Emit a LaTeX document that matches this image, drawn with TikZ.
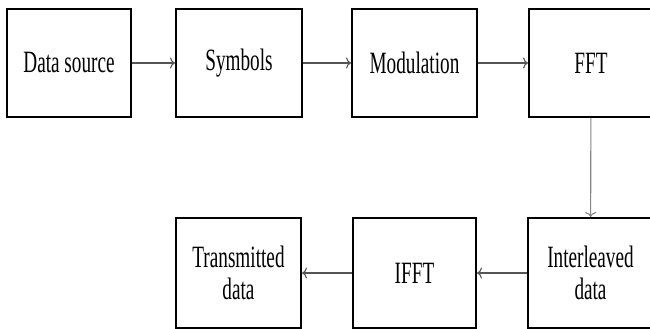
\documentclass[tikz,border=0pt]{standalone}
\usepackage{fontspec}
\newfontfamily\cf[FakeStretch=0.62]{Liberation Serif}
\usetikzlibrary{arrows.meta}
\definecolor{hline}{HTML}{555555}
\definecolor{vline}{HTML}{858585}
\tikzset{
  blk/.style={draw=black, line width=2pt, inner sep=0pt, align=center,
    font=\cf\fontsize{31}{32}\selectfont},
  conn/.style={draw=hline, line width=1.1pt, -{To[length=5pt,width=11pt]}},
}
\begin{document}
\begin{tikzpicture}[x=1pt,y=-1pt]
\clip (0,0) rectangle (650,329);
\fill[white] (0,0) rectangle (650,329);
\node[blk, minimum width=124pt, minimum height=108pt] (ds) at (69,63) {Data source};
\node[blk, minimum width=126pt, minimum height=108pt] (sy) at (239,63) {Symbols};
\node[blk, minimum width=125pt, minimum height=108pt] (mo) at (414.5,63) {Modulation};
\node[blk, minimum width=124pt, minimum height=108pt] (ff) at (591,63) {FFT};
\node[blk, minimum width=125pt, minimum height=110pt] (il) at (590.5,273) {Interleaved\\data};
\node[blk, minimum width=123pt, minimum height=110pt] (if) at (414.5,273) {IFFT};
\node[blk, minimum width=125pt, minimum height=110pt] (tx) at (238.5,273) {Transmitted\\data};
\draw[conn] (ds) -- (sy);
\draw[conn] (sy) -- (mo);
\draw[conn] (mo) -- (ff);
\draw[conn, draw=vline] (ff) -- (il);
\draw[conn] (il) -- (if);
\draw[conn] (if) -- (tx);
\end{tikzpicture}
\end{document}
